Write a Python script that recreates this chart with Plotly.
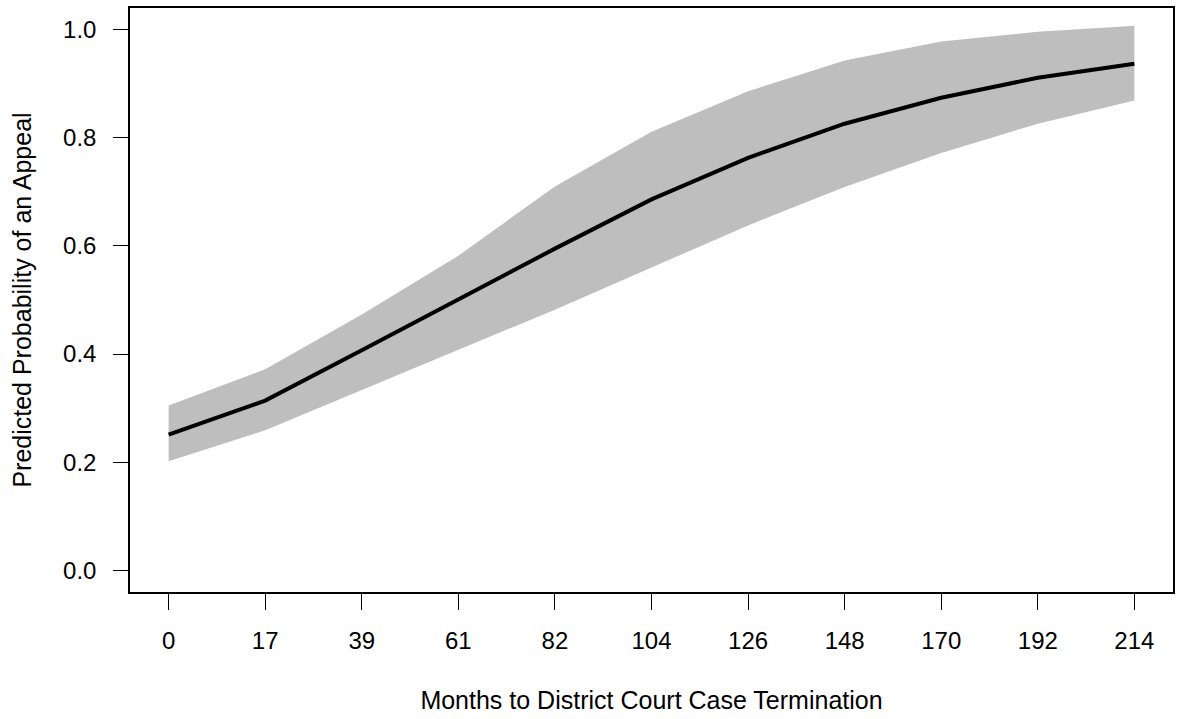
import plotly.graph_objects as go

# Months to district court case termination (equally spaced categories)
months = ["0", "17", "39", "61", "82", "104", "126", "148", "170", "192", "214"]

# Predicted probability of an appeal and its confidence bounds
predicted = [0.251, 0.314, 0.407, 0.501, 0.595, 0.686, 0.763, 0.826, 0.874, 0.911, 0.937]
upper = [0.305, 0.372, 0.473, 0.582, 0.710, 0.811, 0.886, 0.943, 0.978, 0.996, 1.007]
lower = [0.202, 0.259, 0.333, 0.408, 0.482, 0.560, 0.638, 0.709, 0.772, 0.826, 0.869]

FONT = "Liberation Sans, Arial, Helvetica, sans-serif"

fig = go.Figure()

# Confidence band as a closed polygon
fig.add_trace(go.Scatter(
    x=months + months[::-1],
    y=upper + lower[::-1],
    fill="toself",
    fillcolor="#BEBEBE",
    line=dict(width=0),
    mode="lines",
    hoverinfo="skip",
    showlegend=False,
))

# Predicted probability line
fig.add_trace(go.Scatter(
    x=months,
    y=predicted,
    mode="lines",
    line=dict(color="black", width=4),
    showlegend=False,
))

fig.update_layout(
    width=1181,
    height=719,
    margin=dict(l=130, r=6, t=8, b=127),
    paper_bgcolor="white",
    plot_bgcolor="white",
    font=dict(family=FONT, size=24, color="black"),
)

fig.update_xaxes(
    type="category",
    categoryorder="array",
    categoryarray=months,
    range=[-0.4, 10.4],
    showgrid=False,
    zeroline=False,
    showline=True,
    mirror=True,
    linecolor="black",
    linewidth=1.5,
    ticks="outside",
    ticklen=16,
    tickwidth=1.3,
    tickcolor="black",
    ticklabelstandoff=10,
    title=dict(text="Months to District Court Case Termination", standoff=39,
               font=dict(size=25)),
)

fig.update_yaxes(
    range=[-0.04, 1.04],
    tickvals=[0, 0.2, 0.4, 0.6, 0.8, 1.0],
    tickformat=".1f",
    showgrid=False,
    zeroline=False,
    showline=True,
    mirror=True,
    linecolor="black",
    linewidth=1.5,
    ticks="outside",
    ticklen=15,
    tickwidth=1.3,
    tickcolor="black",
    ticklabelstandoff=12,
    title=dict(text="Predicted Probability of an Appeal", standoff=24,
               font=dict(size=25)),
)

fig.write_html("out.html")
